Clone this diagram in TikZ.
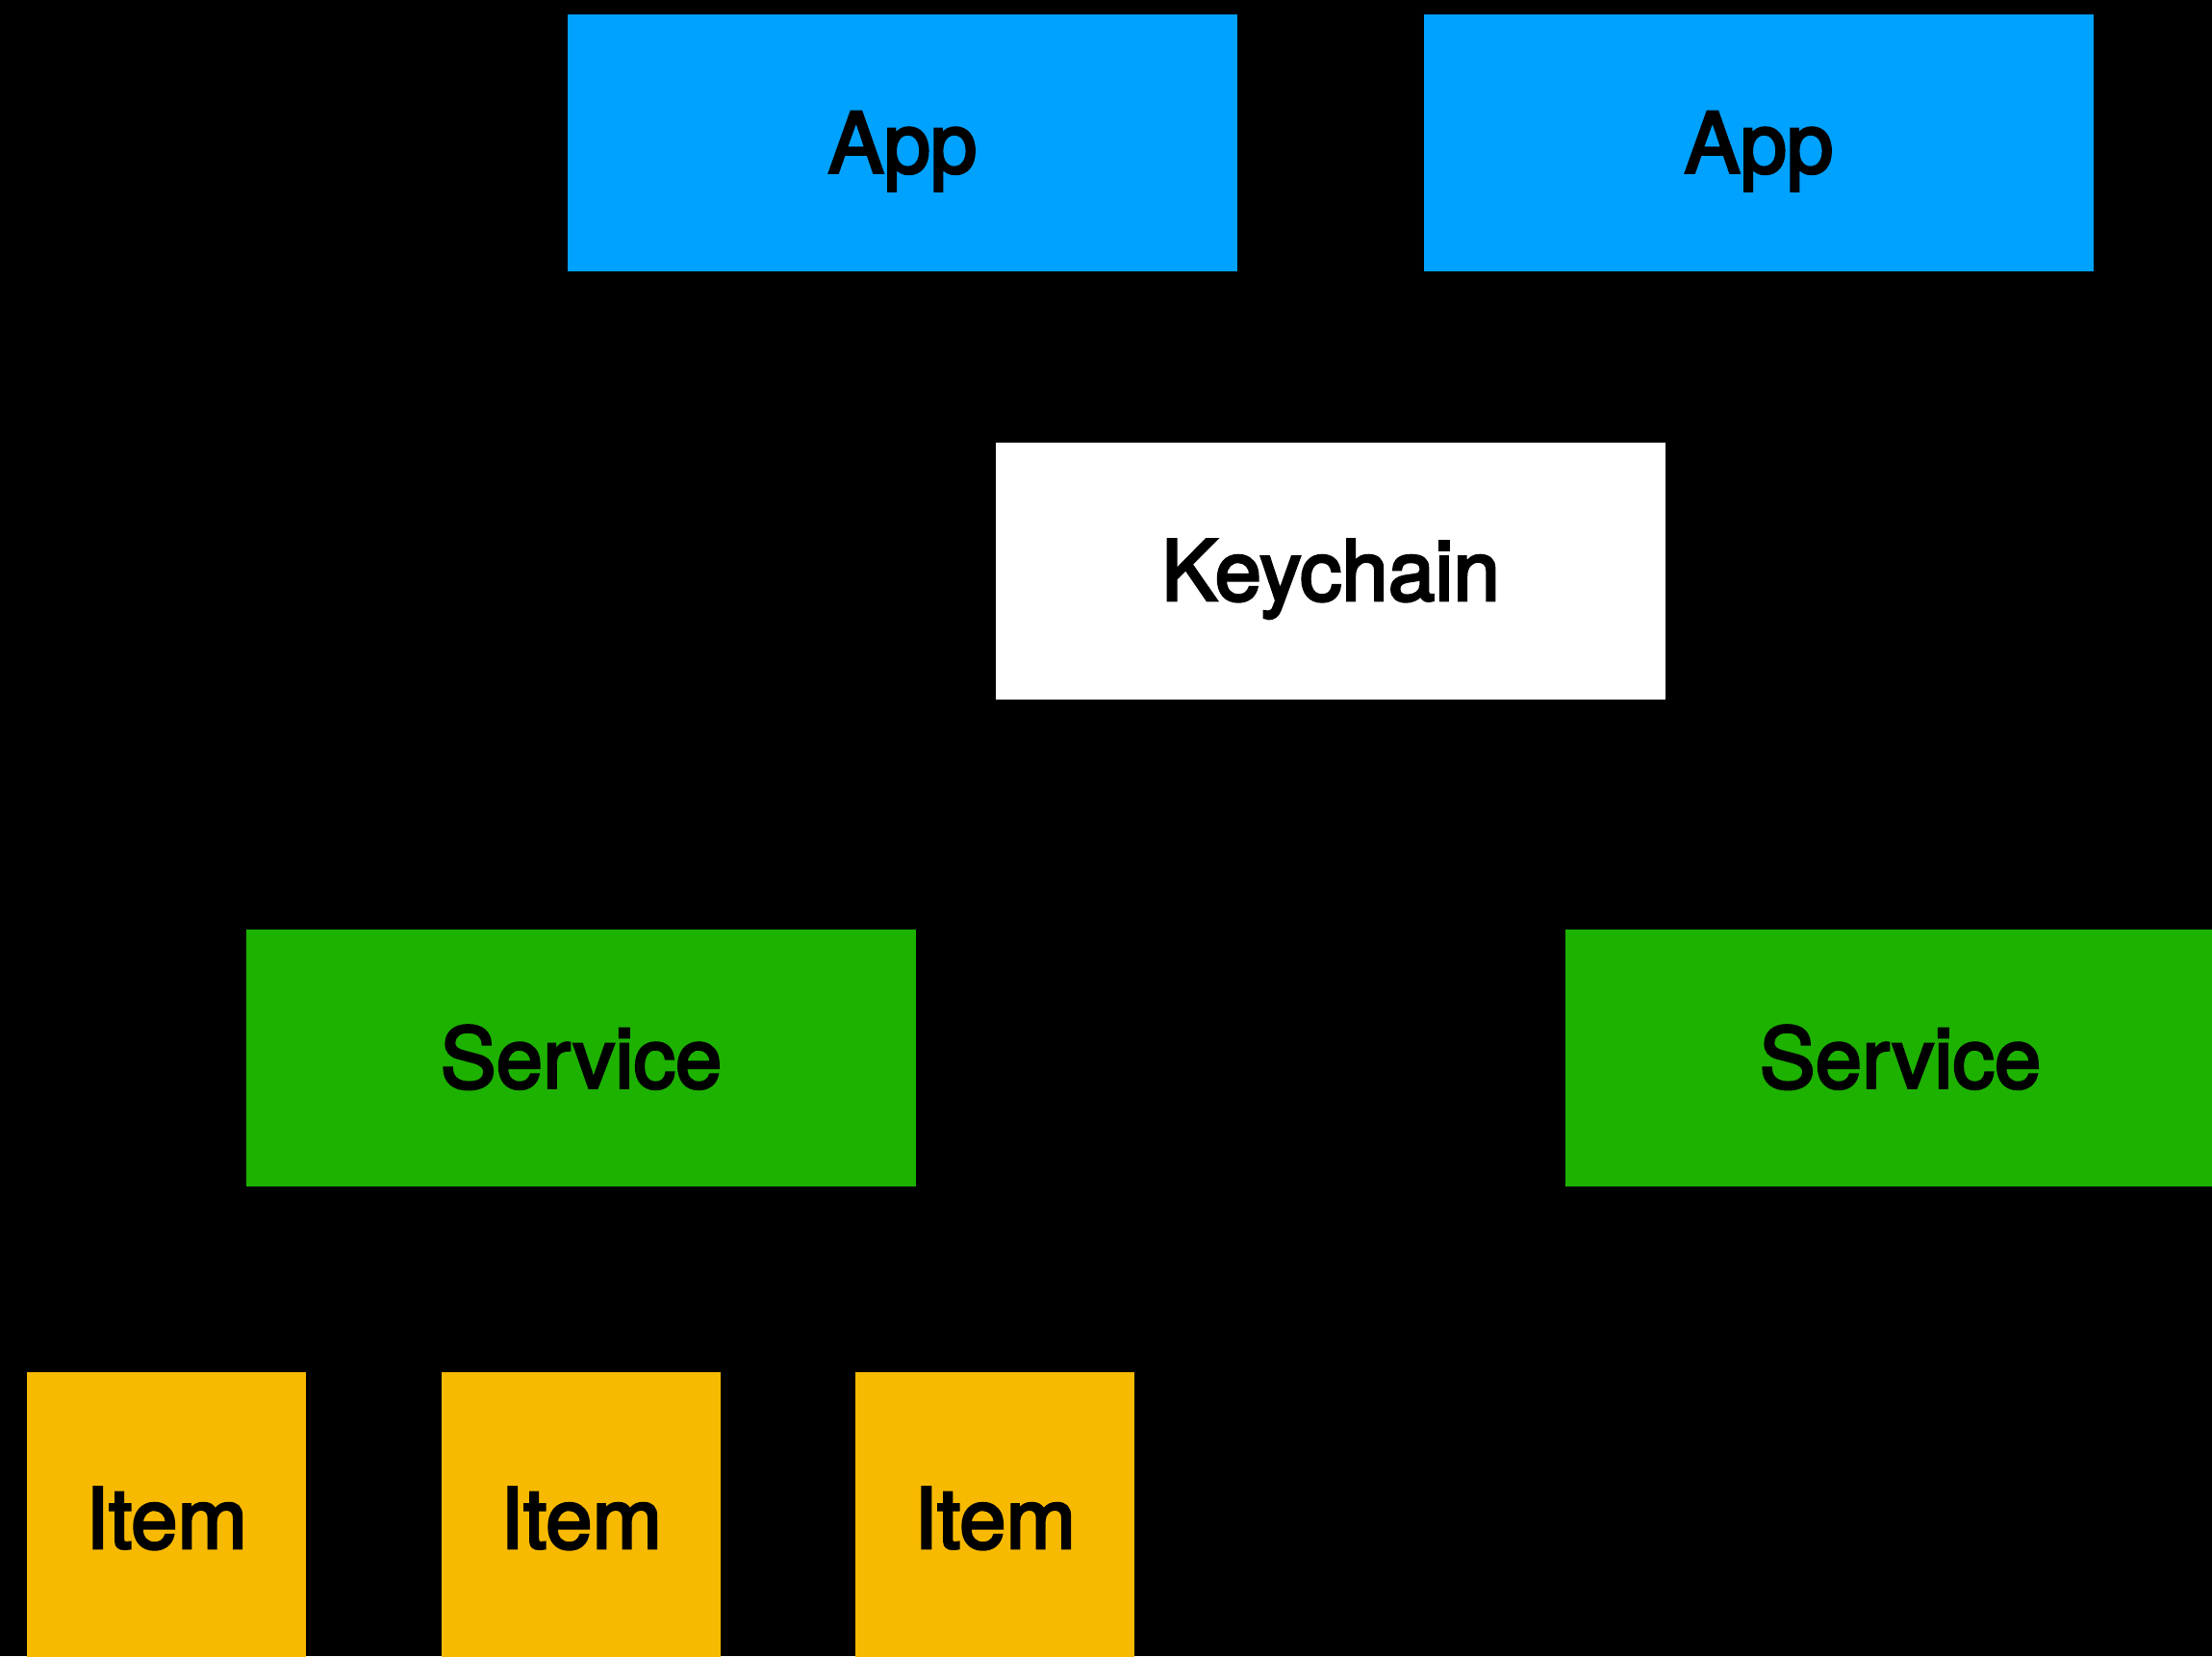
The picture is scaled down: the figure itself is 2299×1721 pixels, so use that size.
\documentclass[tikz,border=0pt]{standalone}
\usepackage{fontspec}
\setmainfont{TeX Gyre Heros}
\newfontfamily\labelfont{TeX Gyre Heros}[FakeBold=3.2]
\definecolor{appblue}{HTML}{00A2FF}
\definecolor{svcgreen}{HTML}{1DB100}
\definecolor{itemyellow}{HTML}{F8BA00}
\tikzset{
  block/.style={rectangle, inner sep=0pt, draw=none, text=black,
    font=\labelfont\fontsize{87}{100}\selectfont, text height=62pt, text depth=0pt,
    minimum width=696pt, minimum height=267pt},
  appbox/.style={block, fill=appblue},
  keybox/.style={block, fill=white},
  svcbox/.style={block, fill=svcgreen},
  itembox/.style={block, fill=itemyellow, minimum width=290pt, minimum height=304pt}
}
\begin{document}
\begin{tikzpicture}[x=1pt, y=-1pt]
  \useasboundingbox (0,0) rectangle (2299,1721);
  \fill[black] (0,0) rectangle (2299,1721);
  \clip (0,0) rectangle (2299,1721);
  % applications
  \node[appbox] (app1) at (938,148.5) {App};
  \node[appbox] (app2) at (1828,148.5) {App};
  % keychain
  \node[keybox] (keychain) at (1383,593) {Keychain};
  % services
  \node[svcbox] (svc1) at (604,1099.5) {Service};
  \node[svcbox] (svc2) at (1975,1099.5) {Service};
  % items
  \node[itembox] (item1) at (173,1578) {Item};
  \node[itembox] (item2) at (604,1578) {Item};
  \node[itembox] (item3) at (1034,1578) {Item};
\end{tikzpicture}
\end{document}
